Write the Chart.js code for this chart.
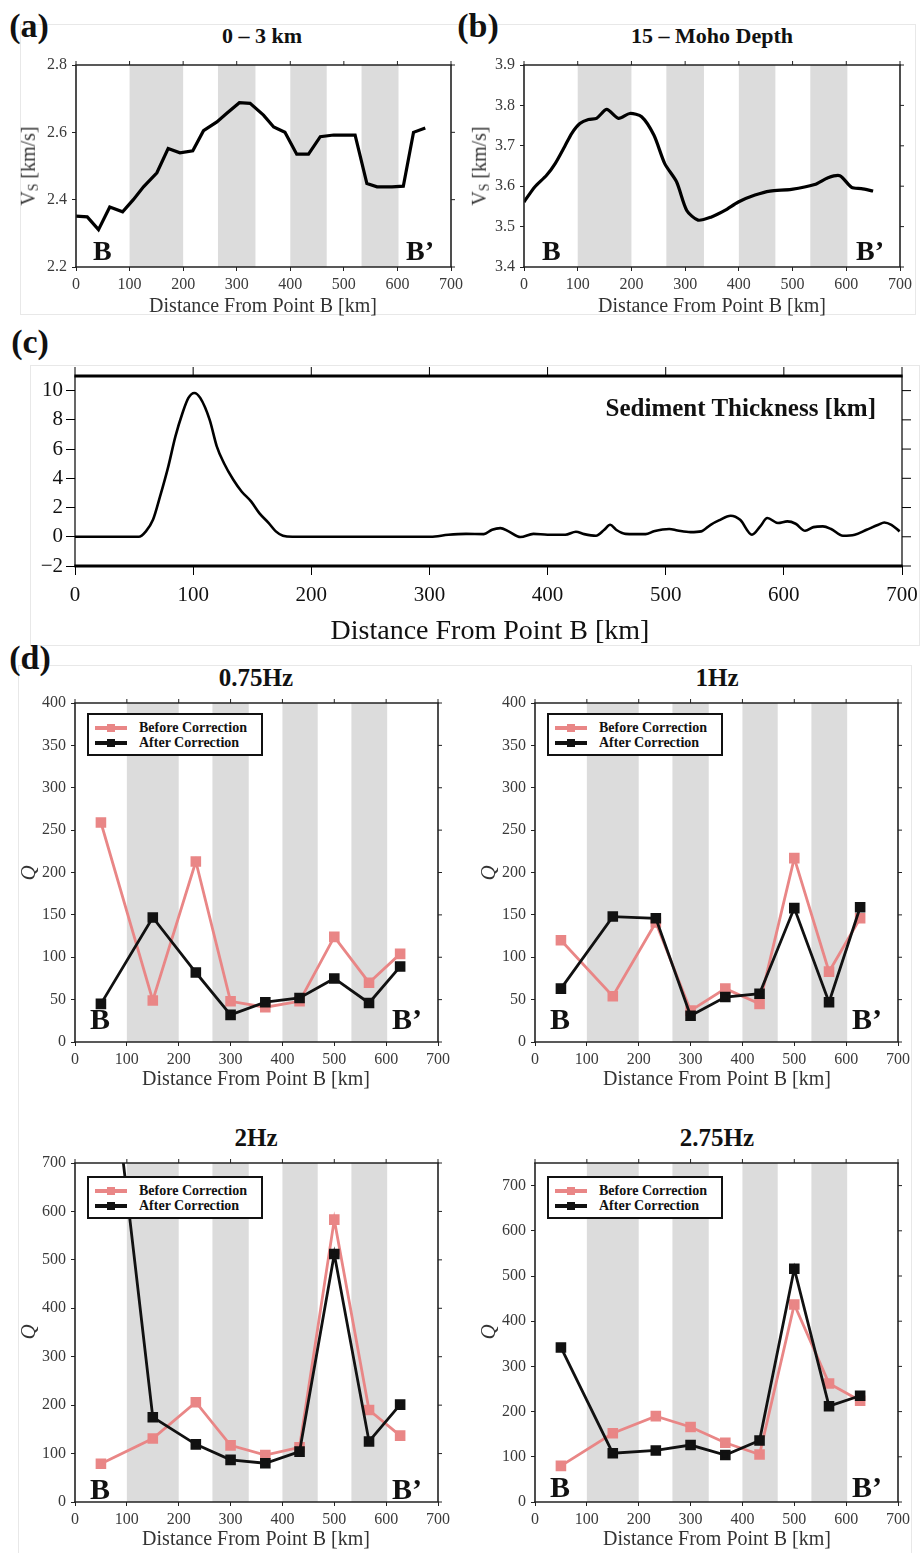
<!DOCTYPE html>
<html><head><meta charset="utf-8">
<script src="https://cdn.jsdelivr.net/npm/chart.js@4.4.1/dist/chart.umd.min.js"></script>
<style>
html,body{margin:0;padding:0;background:#fff;}
#wrap{position:relative;width:923px;height:1553px;overflow:hidden;font-family:"Liberation Serif","Times New Roman",serif;color:#111;}
#wrap canvas{position:absolute;}
.t{position:absolute;white-space:nowrap;line-height:1;}
.t sub{font-size:0.68em;vertical-align:-0.2em;}
.box{position:absolute;border:1px solid #e8e8e8;box-sizing:border-box;}
.legend{position:absolute;border:2px solid #111;background:#fff;box-sizing:border-box;}
.legend .ln{position:absolute;height:4px;width:32px;}
.legend .mk{position:absolute;width:8px;height:8px;}
.legend .lt{position:absolute;font-weight:bold;font-size:14px;line-height:1;white-space:nowrap;transform:translateY(-50%);}
</style></head><body><div id="wrap"></div>
<script>
// ---------------- DATA ----------------
const bands = [[100,200],[265,335],[400,468],[533,602]];
const distTicks = [0,100,200,300,400,500,600,700];

// (a) Vs 0-3 km
const distShallow = [0,21,42,63,87,107,126,151,172,194,218,238,263,281,305,325,350,369,390,412,434,456,481,521,543,562,590,611,630,652];
const vsShallow   = [2.351,2.349,2.311,2.378,2.364,2.40,2.438,2.48,2.552,2.539,2.545,2.605,2.631,2.656,2.688,2.686,2.651,2.616,2.60,2.535,2.535,2.587,2.592,2.592,2.448,2.438,2.438,2.44,2.60,2.613];
const vsShallowTicks = [2.2,2.4,2.6,2.8];

// (b) Vs 15 - Moho depth
const distDeep = [0,20,42,58,76,89,104,120,135,154,176,197,219,242,262,284,303,324,349,374,399,430,458,498,541,566,588,610,628,650];
const vsDeep   = [3.561,3.598,3.627,3.656,3.699,3.731,3.755,3.765,3.768,3.790,3.768,3.780,3.772,3.726,3.656,3.611,3.540,3.516,3.524,3.540,3.561,3.578,3.588,3.592,3.604,3.621,3.626,3.597,3.594,3.588];
const vsDeepTicks = [3.4,3.5,3.6,3.7,3.8,3.9];

// (c) Sediment thickness
const distSed  = [0,54,60,66,72,79,85,91,96,101,106,114,120,126,134,141,149,156,164,170,176,184,301,316,331,346,353,360,367,377,388,400,415,424,431,441,448,453,458,466,483,490,503,510,521,530,538,545,555,563,573,580,586,595,603,610,618,625,633,640,650,660,670,680,685,691,698];
const sediment = [0,0,0.37,1.16,2.76,4.82,6.87,8.47,9.5,9.84,9.5,8.0,6.19,5.05,3.9,3.1,2.42,1.62,0.94,0.37,0.07,0,0,0.14,0.2,0.18,0.48,0.59,0.37,-0.02,0.2,0.14,0.14,0.34,0.18,0.07,0.48,0.82,0.48,0.2,0.18,0.37,0.53,0.43,0.32,0.37,0.82,1.12,1.44,1.16,0.14,0.71,1.28,0.94,1.05,0.89,0.41,0.66,0.71,0.53,0.07,0.14,0.48,0.82,0.98,0.82,0.37];
const sedimentTicks = [-2,0,2,4,6,8,10];

// (d) Q values at stations
const stationDist = [50,150,233,300,367,433,500,567,627];
const seriesNames = ['Before Correction','After Correction'];
const q075Before = [259,49,213,48,41,48,124,70,104];
const q075After  = [45,147,82,32,47,52,75,46,89];
const q1Before   = [120,54,141,37,63,45,217,83,146];
const q1After    = [63,148,146,31,53,57,158,47,159];
const q2Before   = [79,131,206,117,97,113,583,190,137];
const q2After    = [1100,175,119,87,80,104,512,125,201];
const q275Before = [80,152,190,166,131,105,437,262,224];
const q275After  = [342,108,114,126,104,136,516,212,235];
const qTicksLow  = [0,50,100,150,200,250,300,350,400];
const qTicksHigh = [0,100,200,300,400,500,600,700];

// ---------------- RENDER ----------------
const wrap = document.getElementById('wrap');
const SERIF = "'Liberation Serif','Times New Roman',serif";
const PINK = '#e98686', BLACK = '#111';

function box(l,t,w,h){const d=document.createElement('div');d.className='box';Object.assign(d.style,{left:l+'px',top:t+'px',width:w+'px',height:h+'px'});wrap.appendChild(d);}
box(20,24,896,291);
box(30,365,890,281);
box(18,665,894,900);

const bandPlugin = {id:'bands', beforeDatasetsDraw(chart,args,o){
  const {ctx,chartArea:a,scales:{x}} = chart; ctx.save(); ctx.fillStyle=o.color||'#dcdcdc';
  (o.ranges||[]).forEach(([s,e])=>{const p1=x.getPixelForValue(s),p2=x.getPixelForValue(e);ctx.fillRect(p1,a.top,p2-p1,a.bottom-a.top);});
  ctx.restore();}};
const framePlugin = {id:'frame', afterDraw(chart,args,o){
  const {ctx,chartArea:a,scales:{x,y}} = chart; ctx.save(); ctx.strokeStyle=o.color;
  function ln(x1,y1,x2,y2,w){ctx.lineWidth=w;ctx.beginPath();ctx.moveTo(x1,y1);ctx.lineTo(x2,y2);ctx.stroke();}
  ln(a.left-o.sideW/2,a.top,a.right+o.sideW/2,a.top,o.topW);
  ln(a.left-o.sideW/2,a.bottom,a.right+o.sideW/2,a.bottom,o.botW);
  ln(a.left,a.top,a.left,a.bottom,o.sideW);
  ln(a.right,a.top,a.right,a.bottom,o.sideW);
  x.ticks.forEach(t=>{const p=x.getPixelForValue(t.value);ln(p,a.top,p,a.top-o.tickLen,o.tickW);});
  y.ticks.forEach(t=>{const p=y.getPixelForValue(t.value);ln(a.right,p,a.right+o.tickLen,p,o.tickW);});
  ctx.restore();}};

function makeChart(cfg){
  const W=cfg.yW+cfg.plotW+cfg.rightPad, H=cfg.topPad+cfg.plotH+cfg.xH;
  const c=document.createElement('canvas'); c.width=W; c.height=H;
  c.style.left=(cfg.plotLeft-cfg.yW)+'px'; c.style.top=(cfg.plotTop-cfg.topPad)+'px';
  c.style.width=W+'px'; c.style.height=H+'px'; wrap.appendChild(c);
  const tickFont={family:SERIF,size:cfg.fontSize};
  const grid={drawOnChartArea:false,drawTicks:true,tickLength:cfg.frame.tickLen,color:cfg.frame.color,lineWidth:cfg.frame.tickW};
  const zeroPad=s=>{s.paddingLeft=s.paddingRight=s.paddingTop=s.paddingBottom=0;};
  return new Chart(c,{type:'line',data:{datasets:cfg.datasets},
    options:{responsive:false,animation:false,devicePixelRatio:1,events:[],
      layout:{padding:{top:cfg.topPad,right:cfg.rightPad,left:0,bottom:0}},
      plugins:{legend:{display:false},tooltip:{enabled:false},bands:{ranges:cfg.bands||[],color:'#dcdcdc'},frame:cfg.frame},
      scales:{
        x:{type:'linear',min:cfg.xMin,max:cfg.xMax,border:{display:false},grid:grid,
           ticks:{font:tickFont,color:cfg.tickColor,padding:cfg.xPad,maxRotation:0,autoSkip:false},
           afterBuildTicks(s){s.ticks=cfg.xTicks.map(v=>({value:v}));},
           afterFit(s){s.height=cfg.xH;zeroPad(s);}},
        y:{type:'linear',min:cfg.yMin,max:cfg.yMax,border:{display:false},grid:grid,
           ticks:{font:tickFont,color:cfg.tickColor,padding:cfg.yPad,autoSkip:false,callback:cfg.yFmt},
           afterBuildTicks(s){s.ticks=cfg.yTicks.map(v=>({value:v}));},
           afterFit(s){s.width=cfg.yW;zeroPad(s);}}
      }},
    plugins:[bandPlugin,framePlugin]});
}

const frameThin={color:'#222',topW:1.6,botW:1.6,sideW:1.6,tickW:1,tickLen:4};
function pts(xs,ys){return xs.map((x,i)=>({x:x,y:ys[i]}));}

// (a)
makeChart({plotLeft:76,plotTop:65,plotW:375,plotH:202,yW:60,topPad:10,rightPad:16,xH:30,
  xMin:0,xMax:700,xTicks:distTicks,yMin:2.2,yMax:2.8,yTicks:vsShallowTicks,yFmt:v=>v.toFixed(1),
  fontSize:16,tickColor:'#3a3a3a',xPad:4,yPad:5,bands:bands,frame:frameThin,
  datasets:[{data:pts(distShallow,vsShallow),borderColor:'#000',borderWidth:3.2,pointRadius:0,tension:0,fill:false}]});
// (b)
makeChart({plotLeft:524,plotTop:65,plotW:376,plotH:202,yW:60,topPad:10,rightPad:18,xH:30,
  xMin:0,xMax:700,xTicks:distTicks,yMin:3.4,yMax:3.9,yTicks:vsDeepTicks,yFmt:v=>v.toFixed(1),
  fontSize:16,tickColor:'#3a3a3a',xPad:4,yPad:5,bands:bands,frame:frameThin,
  datasets:[{data:pts(distDeep,vsDeep),borderColor:'#000',borderWidth:3.2,pointRadius:0,tension:0.25,fill:false}]});
// (c)
makeChart({plotLeft:75,plotTop:376,plotW:827,plotH:190,yW:50,topPad:14,rightPad:16,xH:50,
  xMin:0,xMax:700,xTicks:distTicks,yMin:-2,yMax:11,yTicks:sedimentTicks,yFmt:v=>String(v).replace('-','\u2212'),
  fontSize:21,tickColor:'#111',xPad:8,yPad:3,bands:[],
  frame:{color:'#000',topW:3,botW:3,sideW:1.2,tickW:1,tickLen:9},
  datasets:[{data:pts(distSed,sediment),borderColor:'#000',borderWidth:2.6,pointRadius:0,cubicInterpolationMode:'monotone',fill:false}]});

function qSets(before,after){
  return [
    {label:seriesNames[1],data:pts(stationDist,after),borderColor:BLACK,backgroundColor:BLACK,borderWidth:2.8,pointStyle:'rect',pointRadius:5.5,order:0,tension:0},
    {label:seriesNames[0],data:pts(stationDist,before),borderColor:PINK,backgroundColor:PINK,borderWidth:2.8,pointStyle:'rect',pointRadius:5.5,order:1,tension:0}
  ];
}
const dBase={plotW:363,plotH:339,yW:50,topPad:10,rightPad:16,xH:30,xMin:0,xMax:700,xTicks:distTicks,yMin:0,
  fontSize:16,tickColor:'#3a3a3a',xPad:4,yPad:5,bands:bands,frame:frameThin};
makeChart(Object.assign({},dBase,{plotLeft:75,plotTop:703,yMax:400,yTicks:qTicksLow,datasets:qSets(q075Before,q075After)}));
makeChart(Object.assign({},dBase,{plotLeft:535,plotTop:703,yMax:400,yTicks:qTicksLow,datasets:qSets(q1Before,q1After)}));
makeChart(Object.assign({},dBase,{plotLeft:75,plotTop:1163,yMax:700,yTicks:qTicksHigh,datasets:qSets(q2Before,q2After)}));
makeChart(Object.assign({},dBase,{plotLeft:535,plotTop:1163,yMax:750,yTicks:qTicksHigh,datasets:qSets(q275Before,q275After)}));

// ---------------- TEXT ----------------
function txt(s,x,y,css,anchor){
  const d=document.createElement('div'); d.className='t'; d.innerHTML=s;
  d.style.left=x+'px'; d.style.top=y+'px'; Object.assign(d.style,css||{});
  const tr={c:'translate(-50%,-50%)',l:'translate(0,-50%)',r:'translate(-100%,-50%)',v:'translate(-50%,-50%) rotate(-90deg)'};
  d.style.transform=tr[anchor||'c']; wrap.appendChild(d);
}
const bold=(sz)=>({fontSize:sz+'px',fontWeight:'bold'});
const lab={fontSize:'20px',color:'#333'};
txt('(a)',29,26,bold(34)); txt('(b)',478,26,bold(34)); txt('(c)',30,342,bold(34)); txt('(d)',30,658,bold(34));
txt('0 \u2013 3 km',262,36,bold(22)); txt('15 \u2013 Moho Depth',712,36,bold(22));
txt('V<sub>S</sub> [km/s]',29,166,lab,'v'); txt('V<sub>S</sub> [km/s]',480,166,lab,'v');
txt('Distance From Point B [km]',263,305,lab); txt('Distance From Point B [km]',712,305,lab);
txt('B',93,251,bold(28),'l'); txt('B\u2019',434,251,bold(28),'r');
txt('B',542,251,bold(28),'l'); txt('B\u2019',884,251,bold(28),'r');
txt('Sediment Thickness [km]',876,407,bold(25),'r');
txt('Distance From Point B [km]',490,630,{fontSize:'28px',color:'#111'});

const dPanels=[
  {title:'0.75Hz',cx:256,ty:677,qx:28,qy:873,ly:1078,left:75,bY:1019,lg:[87,713]},
  {title:'1Hz',cx:717,ty:677,qx:488,qy:873,ly:1078,left:535,bY:1019,lg:[547,713]},
  {title:'2Hz',cx:256,ty:1137,qx:28,qy:1332,ly:1538,left:75,bY:1489,lg:[87,1176]},
  {title:'2.75Hz',cx:717,ty:1137,qx:488,qy:1332,ly:1538,left:535,bY:1487,lg:[547,1176]}
];
dPanels.forEach(p=>{
  txt(p.title,p.cx,p.ty,bold(25));
  txt('Q',p.qx,p.qy,{fontSize:'21px',fontStyle:'italic',color:'#333'},'v');
  txt('Distance From Point B [km]',p.cx,p.ly,lab);
  txt('B',p.left+15,p.bY,bold(30),'l'); txt('B\u2019',p.left+347,p.bY,bold(30),'r');
  const L=document.createElement('div'); L.className='legend';
  Object.assign(L.style,{left:p.lg[0]+'px',top:p.lg[1]+'px',width:'176px',height:'43px'});
  [[seriesNames[0],PINK,13],[seriesNames[1],BLACK,28]].forEach(([name,col,cy])=>{
    const l=document.createElement('div'); l.className='ln'; Object.assign(l.style,{left:'6px',top:(cy-2)+'px',background:col}); L.appendChild(l);
    const m=document.createElement('div'); m.className='mk'; Object.assign(m.style,{left:'18px',top:(cy-4)+'px',background:col}); L.appendChild(m);
    const t=document.createElement('div'); t.className='lt'; t.textContent=name; Object.assign(t.style,{left:'50px',top:cy+'px',color:'#111'}); L.appendChild(t);
  });
  wrap.appendChild(L);
});
</script></body></html>
